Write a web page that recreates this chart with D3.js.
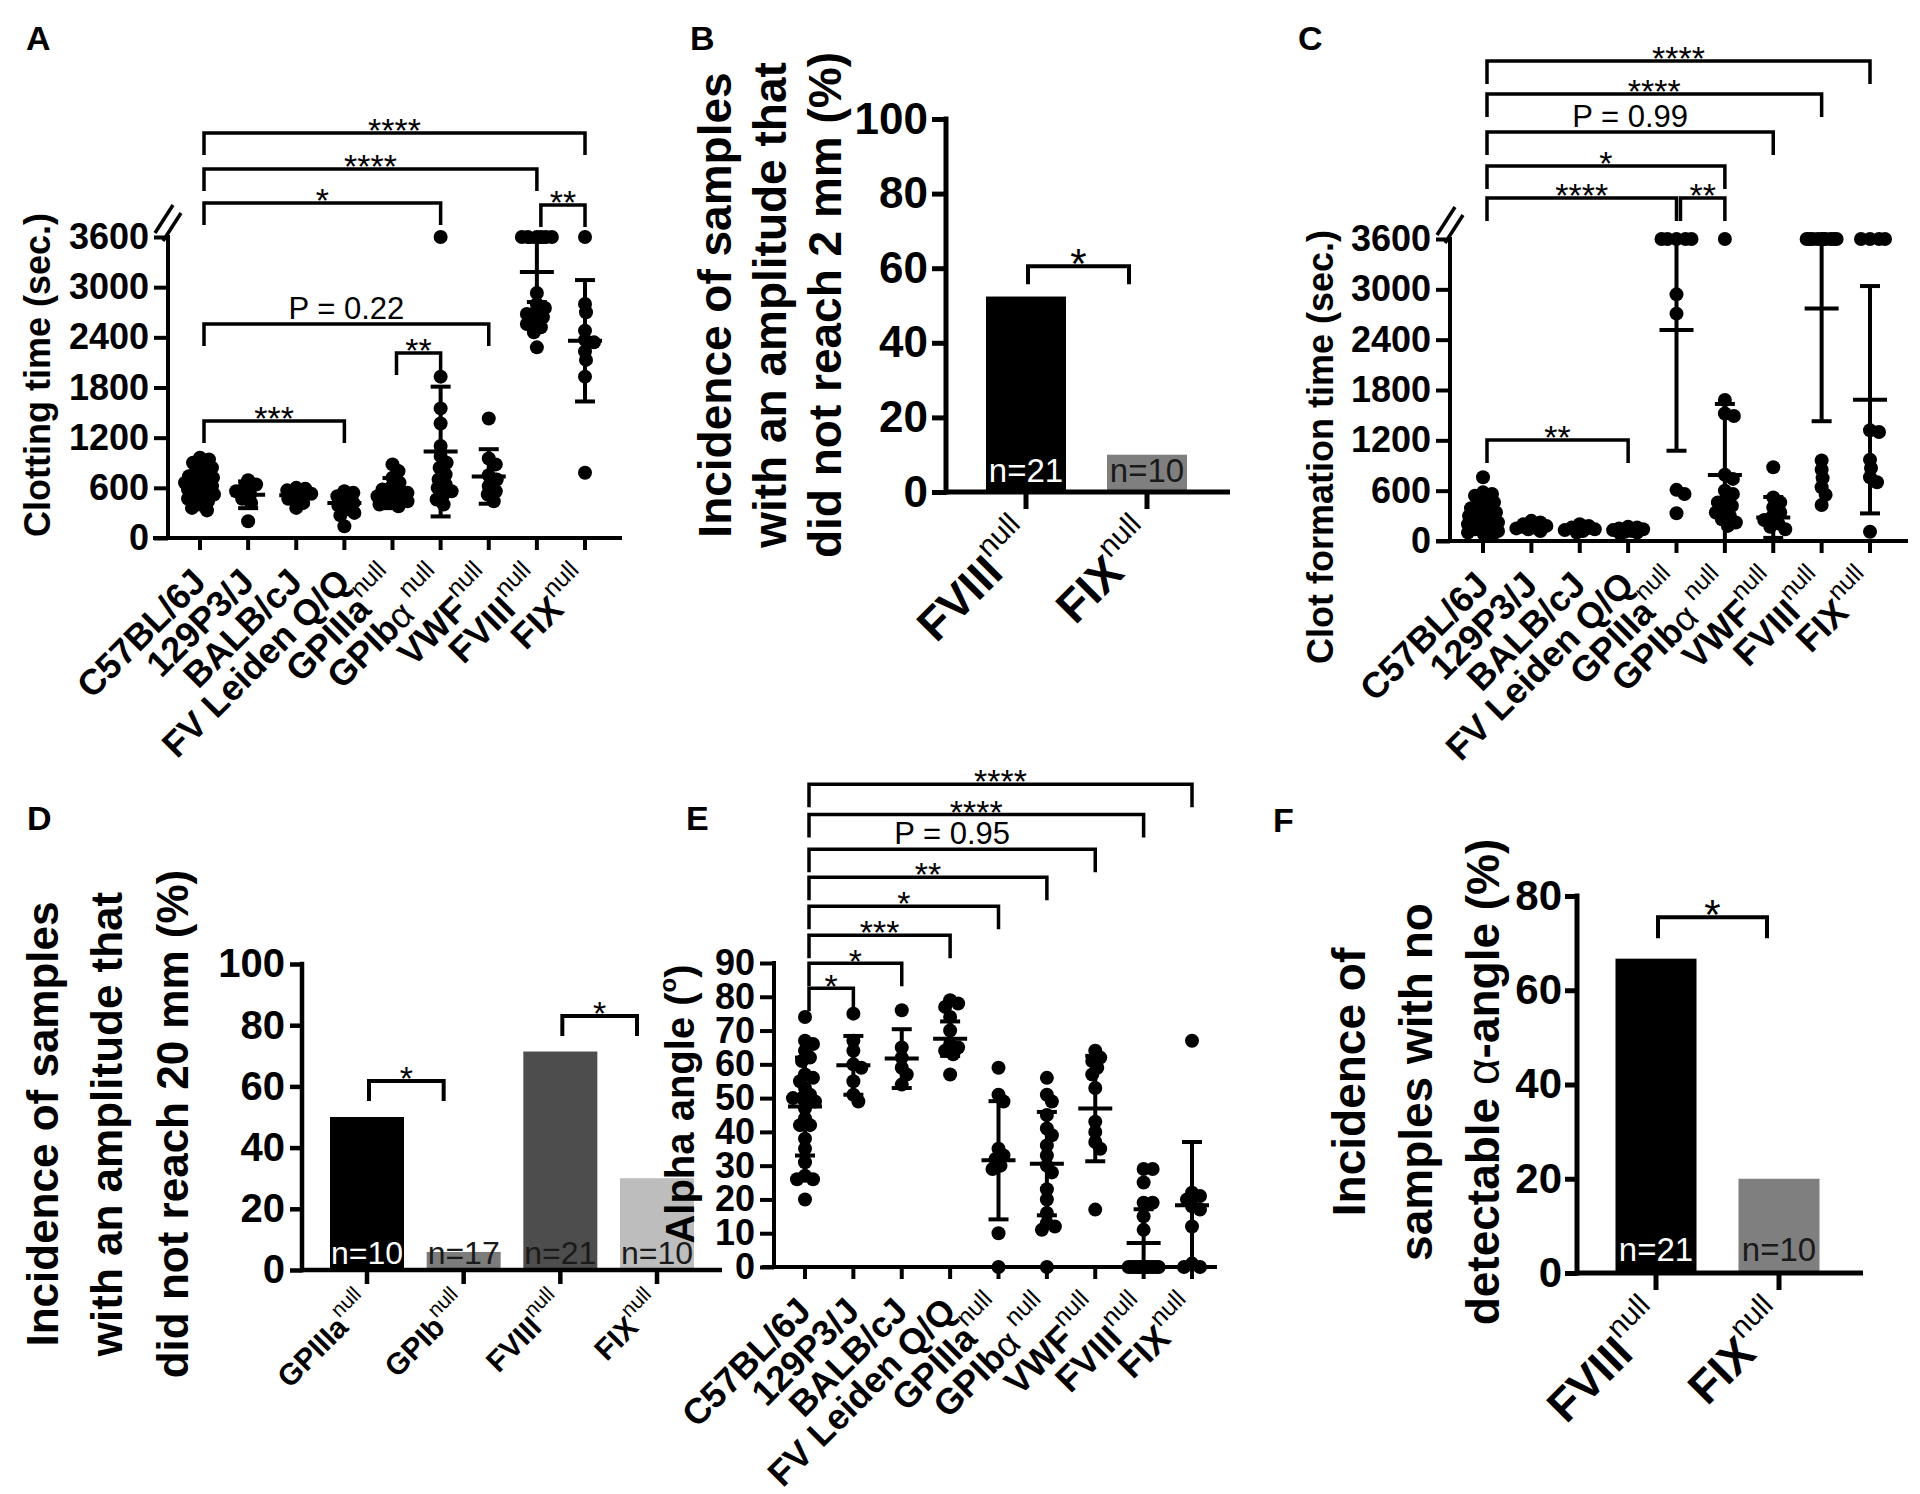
<!DOCTYPE html>
<html><head><meta charset="utf-8">
<script src="https://cdn.jsdelivr.net/npm/d3@7"></script>
<style>
body{margin:0;background:#fff}
svg{display:block;background:#fff}
text{font-family:"Liberation Sans",Arial,Helvetica,sans-serif;fill:#000}
</style></head><body>
<script>
// ---------------- DATA ----------------
const strains = ["C57BL/6J","129P3/J","BALB/cJ","FV Leiden Q/Q","GPIIIa","GPIb","VWF","FVIII","FIX"];
const strainGreek = ["","","","","","α","","",""];
const strainSup = ["","","","","null"," null","null","null","null"];

const timeTicks = [0,600,1200,1800,2400,3000,3600];
const alphaTicks = [0,10,20,30,40,50,60,70,80,90];
const pctTicks100 = [0,20,40,60,80,100];
const pctTicks80 = [0,20,40,60,80];

// A: clotting time (sec.)
const clottingTime = [
  [960,940,900,870,840,800,770,740,720,700,680,660,640,620,600,580,560,540,520,500,470,440,400,360,330],
  [690,640,600,560,520,470,420,200],
  [600,590,570,530,500,470,420,360],
  [560,540,500,460,420,390,350,300,270,140],
  [880,800,720,660,610,580,560,540,520,500,480,460,440,420,400,380],
  [3600,1930,1550,1370,1100,980,900,840,760,700,640,600,560,520,460,400],
  [1430,950,880,750,700,620,560,520,440],
  [3600,3600,3600,3600,3600,3600,2930,2800,2750,2700,2680,2640,2600,2560,2520,2460,2280],
  [3600,2800,2700,2480,2370,2340,2230,2130,1930,780]
];
const clottingMean = [636,517,510,418,537,1034,736,3182,2359];
const clottingSD   = [165,160,90,130,180,776,326,360,726];
// [from, to, label, level (sec.)]
const clottingBrackets = [
  [0,8,"****",4844],[0,7,"****",4413],[0,5,"*",4007],[7,8,"**",3983],
  [0,6,"P = 0.22",2559],[4,5,"**",2213],[0,3,"***",1399]
];

// C: clot formation time (sec.)
const clotFormation = [
  [760,580,560,540,500,460,420,390,360,340,320,300,280,260,240,220,200,180,160,140,120,100,80,60],
  [240,220,200,180,160,150,140,120],
  [200,180,160,140,130,120,100],
  [170,160,150,140,130,120,110,100,90],
  [3600,3600,3600,3600,3600,2940,2710,610,560,330],
  [3600,1680,1520,1490,790,740,600,560,500,460,420,380,340,300,260,220,180],
  [880,520,460,400,340,290,250,210,170,140],
  [3600,3600,3600,3600,3600,3600,3600,3600,3600,3600,960,850,750,640,550,430],
  [3600,3600,3600,3600,1320,1300,970,870,760,700,110]
];
const clotFormationMean = [280,150,125,108,2516,786,281,2772,1684];
const clotFormationSD   = [150,40,30,25,1440,848,244,1344,1355];
const clotFormationBrackets = [
  [0,8,"****",5722],[0,7,"****",5329],[0,6,"P = 0.99",4876],[0,5,"*",4470],
  [0,4,"****",4089],[4,5,"**",4089],[0,3,"**",1204]
];

// E: alpha angle (degrees)
const alphaAngle = [
  [74,67,66,64,62,61,57,56,55,53,51,50,50,49,47,44,42,42,38,35,31,27,26,26,20],
  [75,67,64,60,59,55,51,49],
  [76,65,62,59,57,54],
  [79,78,77,74,70,66,65,64,63,57],
  [59,51,49,35,33,32,30,29,10,0],
  [56,51,49,45,41,39,36,33,30,28,23,20,16,13,12,11,0],
  [64,62,61,59,57,53,43,40,37,35,17],
  [29,29,25,19,19,15,11,0,0,0,0,0,0,0,0,0,0,0,0,0,0],
  [67,22,21,20,18,17,12,1,0,0]
];
const alphaMean = [47.5,59.7,61.7,67.6,31.6,30.6,46.9,7.1,18.3];
const alphaSD   = [14.5,8.7,8.7,5.1,17.5,15.3,15.6,10.0,18.7];
const alphaBrackets = [
  [0,8,"****",142.9],[0,7,"****",134.0],[0,6,"P = 0.95",123.7],[0,5,"**",115.4],
  [0,4,"*",106.8],[0,3,"***",98.2],[0,2,"*",89.9],[0,1,"*",82.5]
];

// B: incidence amplitude < 2 mm (%)
const bCats = ["FVIII","FIX"];
const bPct = [52.4,10];
const bN = [21,10];
const bBracket = [0,1,"*",60.5];

// D: incidence amplitude < 20 mm (%)
const dCats = ["GPIIIa","GPIb","FVIII","FIX"];
const dPct = [50,5.9,71.4,30];
const dN = [10,17,21,10];
const dBrackets = [[0,1,"*",61.8],[2,3,"*",83.0]];

// F: incidence no detectable alpha angle (%)
const fCats = ["FVIII","FIX"];
const fPct = [66.7,20];
const fN = [21,10];
const fBracket = [0,1,"*",75.5];

// ---------------- DRAWING ----------------
const svg = d3.select("body").append("svg").attr("width",1920).attr("height",1494);

function panelLabel(t,x,y){
  svg.append("text").attr("x",x).attr("y",y).style("font-size","34px").style("font-weight","bold").text(t);
}

// GraphPad-like scatter spreading, limited to +-maxOff px around the column
function swarm(vals, y, r, maxOff){
  const idx = d3.range(vals.length).sort((a,b)=>vals[b]-vals[a]);
  const placed=[], off=new Array(vals.length).fill(0);
  const minD = r*1.2;
  const cands=[0]; for(let k=1;k<=maxOff;k++){cands.push(k,-k);}
  idx.forEach(i=>{
    const py=y(vals[i]);
    let best=0,bestD=-1;
    for(const o of cands){
      const d = placed.length ? d3.min(placed,p=>Math.hypot(p[0]-o,p[1]-py)) : Infinity;
      if(d>=minD){best=o;bestD=d;break;}
      if(d>bestD+0.5){bestD=d;best=o;}
    }
    off[i]=best; placed.push([best,py]);
  });
  return off;
}

function rotLabel(g,x,y,main,greek,sup,size,supSize){
  const t=g.append("text").attr("transform",`translate(${x},${y}) rotate(-45)`)
    .attr("text-anchor","end").style("font-size",size+"px").style("font-weight","bold");
  t.append("tspan").text(main);
  if(greek) t.append("tspan").style("font-weight","normal").text(greek);
  if(sup) t.append("tspan").attr("dy",-0.5*size).style("font-size",supSize+"px").style("font-weight","normal").text(sup.replace(" ","\u00a0"));
}

function bracket(g,x1,x2,yl,drop,label,size,sw){
  g.append("path").attr("d",`M${x1},${yl+drop}V${yl}H${x2}V${yl+drop}`)
    .attr("fill","none").attr("stroke","#000").attr("stroke-width",sw);
  const isP = label.startsWith("P");
  g.append("text").attr("x",(x1+x2)/2).attr("y", isP ? yl-5 : yl+0.27*size)
    .attr("text-anchor","middle").style("font-size",(isP?31:size)+"px").text(label);
}

function yAxis(g,o,y){
  const ya=d3.axisLeft(y).tickValues(o.ticks).tickFormat(d3.format("d"))
    .tickSize(o.tickLen).tickSizeOuter(0).tickPadding(o.tickPad||4);
  const yg=g.append("g").attr("transform",`translate(${o.axisX},0)`).call(ya)
    .attr("font-family",null).attr("font-size",null);
  yg.select(".domain").remove();
  yg.selectAll(".tick line").attr("stroke","#000").attr("stroke-width",o.sw);
  yg.selectAll(".tick text").style("font-size",o.tickFont+"px").style("font-weight","bold").attr("fill","#000");
  g.append("line").attr("x1",o.axisX).attr("x2",o.axisX).attr("y1",o.y0+o.sw/2).attr("y2",o.yTop-o.sw/2)
    .attr("stroke","#000").attr("stroke-width",o.sw);
  g.append("line").attr("x1",o.xStart).attr("x2",o.xEnd).attr("y1",o.y0).attr("y2",o.y0)
    .attr("stroke","#000").attr("stroke-width",o.sw);
}

function title(g,lines,xs,cy,size){
  lines.forEach((ln,i)=>{
    const t=g.append("text").attr("transform",`translate(${xs[i]},${cy}) rotate(-90)`)
      .attr("text-anchor","middle").style("font-size",size+"px").style("font-weight","bold");
    ln.forEach(part=>{
      const s=t.append("tspan").text(part.t);
      if(part.n) s.style("font-weight","normal");
      if(part.sup) s.attr("dy",-0.45*size).style("font-size",(size*0.6)+"px");
      if(part.down) s.attr("dy",0.45*size);
    });
  });
}

function dotPanel(o){
  const g=svg.append("g");
  const n=o.vals.length;
  const x=d3.scalePoint().domain(d3.range(n)).range([o.xFirst,o.xLast]);
  const y=d3.scaleLinear().domain([0,o.yMax]).range([o.y0,o.yTop]);
  yAxis(g,o,y);
  g.selectAll(null).data(d3.range(n)).join("line")
    .attr("x1",i=>x(i)).attr("x2",i=>x(i)).attr("y1",o.y0).attr("y2",o.y0+o.xTickLen)
    .attr("stroke","#000").attr("stroke-width",o.sw);
  if(o.broken){
    [[-13,-4,5,-32],[-5,4,13,-24]].forEach(d=>{
      g.append("line").attr("x1",o.axisX+d[0]).attr("y1",o.yTop+d[1]).attr("x2",o.axisX+d[2]).attr("y2",o.yTop+d[3])
        .attr("stroke","#000").attr("stroke-width",3.5);
    });
  }
  o.vals.forEach((vals,gi)=>{
    const off=swarm(vals,y,o.r,o.maxOff);
    g.selectAll(null).data(vals).join("circle")
      .attr("cx",(d,i)=>x(gi)+off[i]).attr("cy",d=>y(d)).attr("r",o.r).attr("fill","#000");
  });
  o.vals.forEach((vals,gi)=>{
    const m=o.mean[gi], s=o.sd[gi], cx=x(gi);
    const hi=Math.min(m+s,o.yMax), lo=Math.max(m-s,0);
    g.append("line").attr("x1",cx).attr("x2",cx).attr("y1",y(lo)).attr("y2",y(hi)).attr("stroke","#000").attr("stroke-width",o.sw);
    g.append("line").attr("x1",cx-o.meanW).attr("x2",cx+o.meanW).attr("y1",y(m)).attr("y2",y(m)).attr("stroke","#000").attr("stroke-width",o.sw);
    [hi,lo].forEach(v=>g.append("line").attr("x1",cx-o.capW).attr("x2",cx+o.capW).attr("y1",y(v)).attr("y2",y(v)).attr("stroke","#000").attr("stroke-width",o.sw));
  });
  strains.forEach((s,i)=>rotLabel(g,x(i)+o.lblDx,o.y0+o.lblDy,s,strainGreek[i],strainSup[i],o.lblFont,o.supFont));
  o.brackets.forEach(b=>bracket(g,x(b[0])+4,x(b[1]),y(b[3]),o.drop,b[2],o.starFont,3.5));
  title(g,o.title,o.titleXs,o.titleY,o.titleFont);
}

function barPanel(o){
  const g=svg.append("g");
  const x=d3.scalePoint().domain(o.cats).range([o.c0,o.c1]);
  const y=d3.scaleLinear().domain([0,o.yMax]).range([o.y0,o.yTop]);
  g.selectAll(null).data(o.pct).join("rect")
    .attr("x",(d,i)=>x(o.cats[i])-o.barW/2).attr("width",o.barW)
    .attr("y",d=>y(d)).attr("height",d=>o.y0-y(d)).attr("fill",(d,i)=>o.colors[i]);
  g.selectAll(null).data(o.n).join("text")
    .attr("x",(d,i)=>x(o.cats[i])).attr("y",o.y0-o.nLift).attr("text-anchor","middle")
    .style("font-size",o.nFont+"px").style("fill",(d,i)=>o.nColors[i]).text(d=>"n="+d);
  yAxis(g,o,y);
  g.selectAll(null).data(o.cats).join("line")
    .attr("x1",c=>x(c)).attr("x2",c=>x(c)).attr("y1",o.y0).attr("y2",o.y0+o.xTickLen)
    .attr("stroke","#000").attr("stroke-width",o.sw);
  o.cats.forEach(c=>rotLabel(g,x(c)+o.lblDx,o.y0+o.lblDy,c,"","null",o.lblFont,o.supFont));
  o.brackets.forEach(b=>bracket(g,x(o.cats[b[0]])+2,x(o.cats[b[1]])-o.brInset,y(b[3]),o.drop,b[2],o.starFont,4));
  title(g,o.title,o.titleXs,o.titleY,o.titleFont);
}

const dotStyle = {sw:4,tickLen:14,xTickLen:12,tickPad:5,tickFont:36,r:7,maxOff:15,meanW:17,capW:10,
  lblDx:8,lblDy:46,lblFont:36,supFont:25,starFont:34};

// ---- Panel A ----
panelLabel("A",26,50);
dotPanel(Object.assign({},dotStyle,{vals:clottingTime,mean:clottingMean,sd:clottingSD,brackets:clottingBrackets,
  yMax:3600,ticks:timeTicks,axisX:168,xStart:153,xEnd:622,xFirst:200,xLast:585,y0:538,yTop:237,
  drop:22,broken:true,
  title:[[{t:"Clotting time (sec.)"}]],titleXs:[50],titleY:375,titleFont:36}));

// ---- Panel C ----
panelLabel("C",1298,50);
dotPanel(Object.assign({},dotStyle,{vals:clotFormation,mean:clotFormationMean,sd:clotFormationSD,brackets:clotFormationBrackets,
  yMax:3600,ticks:timeTicks,axisX:1450,xStart:1436,xEnd:1908,xFirst:1483,xLast:1870,y0:541,yTop:239,
  drop:23,broken:true,
  title:[[{t:"Clot formation time (sec.)"}]],titleXs:[1333],titleY:447,titleFont:36}));

// ---- Panel B ----
panelLabel("B",690,50);
barPanel({cats:bCats,pct:bPct,n:bN,brackets:[bBracket],colors:["#000","#7f7f7f"],nColors:["#fff","#1a1a1a"],
  yMax:100,ticks:pctTicks100,axisX:946,xStart:946,xEnd:1230,c0:1026,c1:1147,barW:80,y0:492,yTop:119,
  sw:5,tickLen:14,xTickLen:17,tickPad:4,tickFont:44,nFont:33,nLift:10,lblDx:12,lblDy:50,lblFont:46,supFont:30,
  brInset:18,drop:18,starFont:42,
  title:[[{t:"Incidence of samples"}],[{t:"with an amplitude that"}],[{t:"did not reach 2 mm (%)"}]],
  titleXs:[731,786,841],titleY:305,titleFont:46});

// ---- Panel D ----
panelLabel("D",27,830);
barPanel({cats:dCats,pct:dPct,n:dN,brackets:dBrackets,colors:["#000","#7c7c7c","#4d4d4d","#bdbdbd"],nColors:["#fff","#1a1a1a","#1a1a1a","#1a1a1a"],
  yMax:100,ticks:pctTicks100,axisX:302,xStart:302,xEnd:722,c0:367,c1:657,barW:74,y0:1270,yTop:964,
  sw:4.5,tickLen:12,xTickLen:14,tickPad:5,tickFont:40,nFont:32,nLift:6,lblDx:6,lblDy:36,lblFont:30,supFont:21,
  brInset:20,drop:20,starFont:34,
  title:[[{t:"Incidence of samples"}],[{t:"with an amplitude that"}],[{t:"did not reach 20 mm (%)"}]],
  titleXs:[58,122,188],titleY:1124,titleFont:44});

// ---- Panel E ----
panelLabel("E",686,830);
dotPanel(Object.assign({},dotStyle,{vals:alphaAngle,mean:alphaMean,sd:alphaSD,brackets:alphaBrackets,
  yMax:90,ticks:alphaTicks,axisX:774,xStart:762,xEnd:1217,xFirst:805,xLast:1192,y0:1267,yTop:963,
  drop:23,broken:false,
  title:[[{t:"Alpha angle ("},{t:"o",sup:true},{t:")",down:true}]],titleXs:[694],titleY:1104,titleFont:40}));

// ---- Panel F ----
panelLabel("F",1273,832);
barPanel({cats:fCats,pct:fPct,n:fN,brackets:[fBracket],colors:["#000","#7f7f7f"],nColors:["#fff","#1a1a1a"],
  yMax:80,ticks:pctTicks80,axisX:1577,xStart:1577,xEnd:1863,c0:1656,c1:1779,barW:81,y0:1273,yTop:896,
  sw:5,tickLen:12,xTickLen:17,tickPad:3,tickFont:42,nFont:33,nLift:12,lblDx:12,lblDy:50,lblFont:46,supFont:30,
  brInset:12,drop:21,starFont:42,
  title:[[{t:"Incidence of"}],[{t:"samples with no"}],[{t:"detectable "},{t:"α",n:true},{t:"-angle (%)"}]],
  titleXs:[1365,1432,1499],titleY:1082,titleFont:46});
</script>
</body></html>
